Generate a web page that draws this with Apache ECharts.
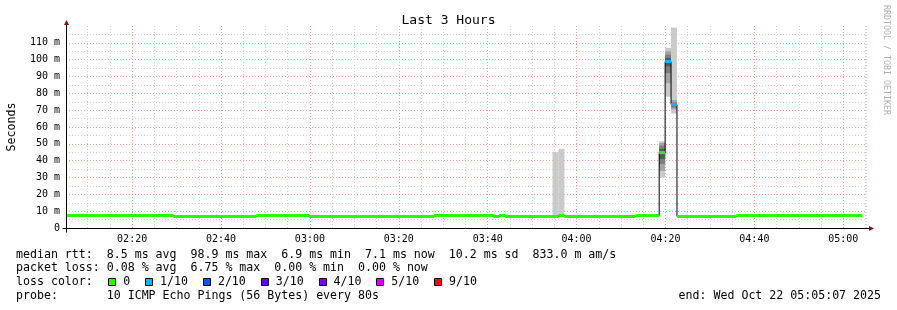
<!DOCTYPE html>
<html><head><meta charset="utf-8">
<script src="https://cdn.jsdelivr.net/npm/echarts@6/dist/echarts.min.js"></script>
<style>html,body{margin:0;padding:0;background:#fff}#c{width:897px;height:310px}</style>
</head><body><div id="c"></div>
<script>
// ---- data ----
const axisStart = '02:05:07';
const axisEnd = '05:05:07';
const stepSeconds = 80;
const medianStart = ['02:05:07','02:29:15','02:47:55','02:59:55','03:27:55','03:41:15','03:42:35','03:43:55','03:55:55','03:57:15','04:13:15','04:18:35','04:19:55','04:21:15','04:22:35','04:35:55'];
const medianRtt   = [7.4, 6.9, 7.4, 6.9, 7.4, 6.9, 7.4, 6.9, 7.4, 6.9, 7.4, 44.8, 98.9, 73.4, 6.9, 7.4];
const medianLoss  = [0, 0, 0, 0, 0, 0, 0, 0, 0, 0, 0, 0, 1, 1, 0, 0];
const dataEnd = '05:04:15';
const smokeStart = ['03:54:35','03:55:55','04:18:35','04:19:55','04:21:15'];
const smokePings = [
  [6.8, 6.9, 7.0, 7.0, 7.0, 7.1, 7.1, 7.2, 7.3, 45.0],
  [6.9, 7.0, 7.1, 7.2, 7.3, 7.4, 7.5, 7.6, 7.8, 47.0],
  [30.0, 34.0, 38.0, 41.0, 44.0, 45.5, 47.0, 49.0, 50.5, 51.5],
  [78.0, 86.0, 92.0, 96.0, 98.9, 101.0, 103.0, 105.0, 107.0],
  [68.0, 70.5, 71.5, 72.5, 73.4, 73.8, 74.5, 76.0, 119.0]
];
const yMax = 120, yStep = 10;
const lossLabels = ['0','1/10','2/10','3/10','4/10','5/10','9/10'];
const lossThreshold = [0, 1, 2, 3, 4, 5, 9];
const lossColors = ['#26ff00','#00b8ff','#0059ff','#5e00ff','#7e00ff','#dd00ff','#ff0000'];
const statsLines = [
  'median rtt:  8.5 ms avg  98.9 ms max  6.9 ms min  7.1 ms now  10.2 ms sd  833.0 m am/s',
  'packet loss: 0.08 % avg  6.75 % max  0.00 % min  0.00 % now'
];
const lossTitle = 'loss color:';
const probeText = 'probe:       10 ICMP Echo Pings (56 Bytes) every 80s';
const endText = 'end: Wed Oct 22 05:05:07 2025';
const titleText = 'Last 3 Hours';
const yName = 'Seconds';
const watermark = 'RRDTOOL / TOBI OETIKER';

// ---- helpers ----
function T(hms){const p=hms.split(':').map(Number);return new Date(2025,9,22,p[0],p[1],p[2]).getTime();}
function lossColor(l){let k=0;for(let i=0;i<lossThreshold.length;i++){if(l>=lossThreshold[i])k=i;}return lossColors[k];}
const FONT = '"DejaVu Sans Mono", monospace';

const xMin = T(axisStart), xMax = T(axisEnd);
const stepData = medianStart.map((s,i)=>[T(s), medianRtt[i]]).concat([[T(dataEnd), medianRtt[medianRtt.length-1]]]);
const segData = medianStart.map((s,i)=>[T(s), T(i+1<medianStart.length?medianStart[i+1]:dataEnd), medianRtt[i], medianLoss[i]]);
const smokeData = smokeStart.map((s,i)=>[T(s), i]);

function renderSmoke(params, api){
  const t0 = api.value(0); const idx = api.value(1);
  const pings = smokePings[idx].slice().sort((a,b)=>a-b);
  const x0 = api.coord([t0,0])[0], x1 = api.coord([t0+stepSeconds*1000,0])[0];
  const n = pings.length, half = 5, children = [];
  for(let b=0,t=n-1;b<t;b++,t--){
    const c = Math.round(190/half*(half-(b+1)))+50;
    const yb = api.coord([t0,pings[b]])[1], yt = api.coord([t0,pings[t]])[1];
    children.push({type:'rect',shape:{x:x0,y:yt,width:x1-x0,height:yb-yt},style:{fill:'rgb('+c+','+c+','+c+')'}});
  }
  return {type:'group',children};
}
function renderSeg(params, api){
  const a = api.coord([api.value(0), api.value(2)]);
  const b = api.coord([api.value(1), api.value(2)]);
  return {type:'rect',shape:{x:a[0],y:a[1]-1.5,width:b[0]-a[0],height:3},style:{fill:lossColor(api.value(3))}};
}

const chart = echarts.init(document.getElementById('c'), null, {renderer:'canvas'});
const grid = {left:66, right:31, top:26, bottom:82, containLabel:false, outerBoundsMode:'none'};
chart.setOption({
  animation:false,
  backgroundColor:'#fff',
  title:{text:titleText,left:'center',top:9,textStyle:{fontFamily:FONT,fontSize:13,fontWeight:'normal',color:'#000'}},
  grid:grid,
  xAxis:[
    {type:'time',position:'bottom',min:xMin,max:xMax,splitNumber:30,axisLine:{show:false},axisTick:{show:false},axisLabel:{show:false},
     splitLine:{show:true,showMinLine:false,lineStyle:{color:'#d4d4d4',width:1,type:[1,2]}}},
    {type:'time',position:'bottom',min:xMin,max:xMax,splitNumber:8,minInterval:21*60000,axisLine:{show:false},axisTick:{show:false},
     axisLabel:{formatter:'{HH}:{mm}',fontFamily:FONT,fontSize:10,color:'#000',margin:6,showMinLabel:false,showMaxLabel:false,fontWeight:'normal'},
     splitLine:{show:true,showMinLine:false,showMaxLine:false,lineStyle:{color:'#f0a0a0',width:1,type:[1,2]}}}
  ],
  yAxis:{type:'value',min:0,max:yMax,interval:yStep,
    name:yName,nameLocation:'middle',nameGap:48,nameRotate:90,nameTextStyle:{fontFamily:FONT,fontSize:11.6,color:'#000'},
    axisLine:{show:false},axisTick:{show:false},
    axisLabel:{formatter:v=>v===0?'0':v+' m',fontFamily:FONT,fontSize:10,color:'#000',margin:6,showMaxLabel:false},
    splitLine:{show:true,showMinLine:false,showMaxLine:false,lineStyle:{color:'#f0a0a0',width:1,type:[1,2]}},
    minorTick:{show:false,splitNumber:2},
    minorSplitLine:{show:true,lineStyle:{color:'#d4d4d4',width:1,type:[1,2]}}
  },
  series:[
    {type:'custom',xAxisIndex:1,renderItem:renderSmoke,data:smokeData,encode:{x:0,y:1},clip:true,z:2},
    {type:'line',xAxisIndex:1,data:stepData,step:'end',symbol:'none',lineStyle:{color:'#000',width:1},z:3},
    {type:'custom',xAxisIndex:1,renderItem:renderSeg,data:segData,encode:{x:[0,1],y:2},clip:true,z:4}
  ]
});

// axes, arrows and legend text
const O = chart.convertToPixel({xAxisIndex:1,yAxisIndex:0},[xMin,0]);
const R = chart.convertToPixel({xAxisIndex:1,yAxisIndex:0},[xMax,0]);
const Tp = chart.convertToPixel({xAxisIndex:1,yAxisIndex:0},[xMin,yMax]);
const ox = Math.round(O[0])+0.5, oy = Math.round(O[1])+0.5;
const g = [];
g.push({type:'line',shape:{x1:ox-4,y1:oy,x2:R[0]+3,y2:oy},style:{stroke:'#000',lineWidth:1},z:100});
g.push({type:'line',shape:{x1:ox,y1:oy+4,x2:ox,y2:Tp[1]-3},style:{stroke:'#000',lineWidth:1},z:100});
g.push({type:'polygon',shape:{points:[[R[0]+3,oy-2.5],[R[0]+8,oy],[R[0]+3,oy+2.5]]},style:{fill:'#7f1010'},z:101});
g.push({type:'polygon',shape:{points:[[ox-2.5,Tp[1]-1],[ox,Tp[1]-6],[ox+2.5,Tp[1]-1]]},style:{fill:'#7f1010'},z:101});
const rowY = [254.5, 268.3, 282, 295.8];
const tstyle = (txt,x,y,align)=>({type:'text',x:x,y:y,style:{text:txt,fontFamily:FONT,fontSize:11.6,fill:'#000',align:align||'left',verticalAlign:'middle'},z:100});
g.push(tstyle(statsLines[0],16,rowY[0]));
g.push(tstyle(statsLines[1],16,rowY[1]));
g.push(tstyle(lossTitle,16,rowY[2]));
let cx = 108.3;
lossLabels.forEach((lab,i)=>{
  g.push({type:'rect',shape:{x:Math.round(cx)+0.5,y:278.5,width:7,height:7},style:{fill:lossColors[i],stroke:'#000',lineWidth:1},z:100});
  const tx = cx+15;
  g.push(tstyle(lab,tx,rowY[2]));
  cx = tx + lab.length*7 + 14.8;
});
g.push(tstyle(probeText,16,rowY[3]));
g.push(tstyle(endText,881,rowY[3],'right'));
g.push({type:'text',x:886,y:5,rotation:-Math.PI/2,style:{text:watermark,fontFamily:FONT,fontSize:8.3,fill:'#b0b0b0',align:'left',verticalAlign:'middle'},z:100});
chart.setOption({graphic:g});
</script></body></html>
